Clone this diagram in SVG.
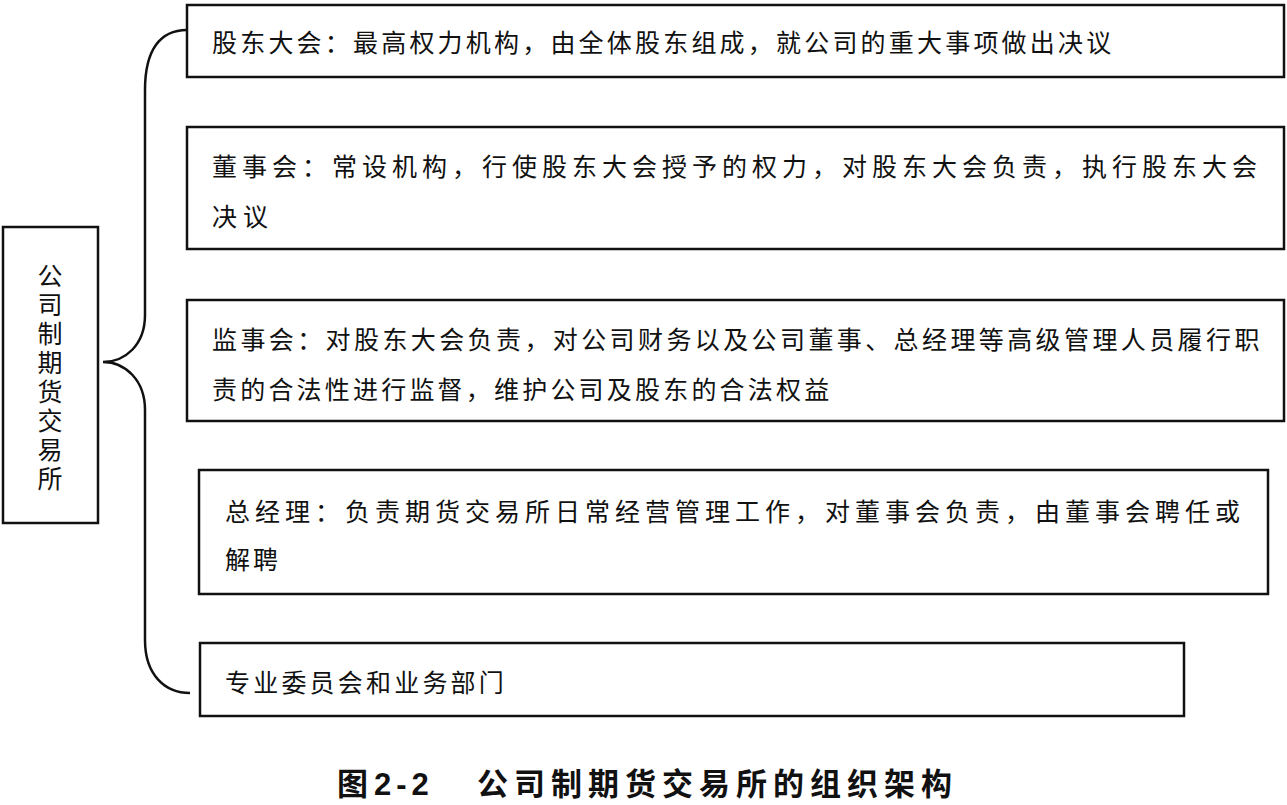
<svg xmlns="http://www.w3.org/2000/svg" width="1287" height="805" viewBox="0 0 1287 805">
<style>
.box{fill:#fff;stroke:#111;stroke-width:2.5}
.t{font-family:"Noto Sans CJK SC","Noto Sans",sans-serif;font-size:25px;fill:#111}
.conn{fill:none;stroke:#111;stroke-width:2.5}
.cap{font-family:"Noto Sans CJK SC","Liberation Sans",sans-serif;font-size:31px;font-weight:bold;fill:#111}
</style>
<rect width="1287" height="805" fill="#fff"/>
<g id="connectors">
<path class="conn" d="M187,30 C160,30 145,50 145,90 L145,315 C145,345 125,362 103,362 C125,362 145,380 145,410 L145,640 C145,675 165,693 190,693"/>
</g>
<g id="root">
<rect class="box" x="3" y="227" width="95" height="296"/>
<text class="t" x="50" y="263" writing-mode="vertical-rl" letter-spacing="4">公司制期货交易所</text>
</g>
<g id="n1">
<rect class="box" x="187" y="5" width="1097" height="72"/>
<text class="t" x="212" y="52" letter-spacing="3.2">股东大会：最高权力机构，由全体股东组成，就公司的重大事项做出决议</text>
</g>
<g id="n2">
<rect class="box" x="187" y="127" width="1097" height="122"/>
<text class="t" x="212" y="176" letter-spacing="5">董事会：常设机构，行使股东大会授予的权力，对股东大会负责，执行股东大会</text>
<text class="t" x="212" y="226" letter-spacing="6">决议</text>
</g>
<g id="n3">
<rect class="box" x="187" y="300" width="1097" height="121"/>
<text class="t" x="212" y="349" letter-spacing="3.4">监事会：对股东大会负责，对公司财务以及公司董事、总经理等高级管理人员履行职</text>
<text class="t" x="212" y="399" letter-spacing="3.2">责的合法性进行监督，维护公司及股东的合法权益</text>
</g>
<g id="n4">
<rect class="box" x="199" y="470" width="1069" height="124"/>
<text class="t" x="225" y="521" letter-spacing="5">总经理：负责期货交易所日常经营管理工作，对董事会负责，由董事会聘任或</text>
<text class="t" x="225" y="569" letter-spacing="3">解聘</text>
</g>
<g id="n5">
<rect class="box" x="200" y="643" width="984" height="73"/>
<text class="t" x="225" y="692" letter-spacing="3.2">专业委员会和业务部门</text>
</g>
<g id="caption">
<text class="cap" y="795"><tspan x="337">图</tspan><tspan x="374" font-family="Liberation Sans,sans-serif" letter-spacing="5">2-2</tspan><tspan x="477" letter-spacing="6">公司制期货交易所的组织架构</tspan></text>
</g>
</svg>
